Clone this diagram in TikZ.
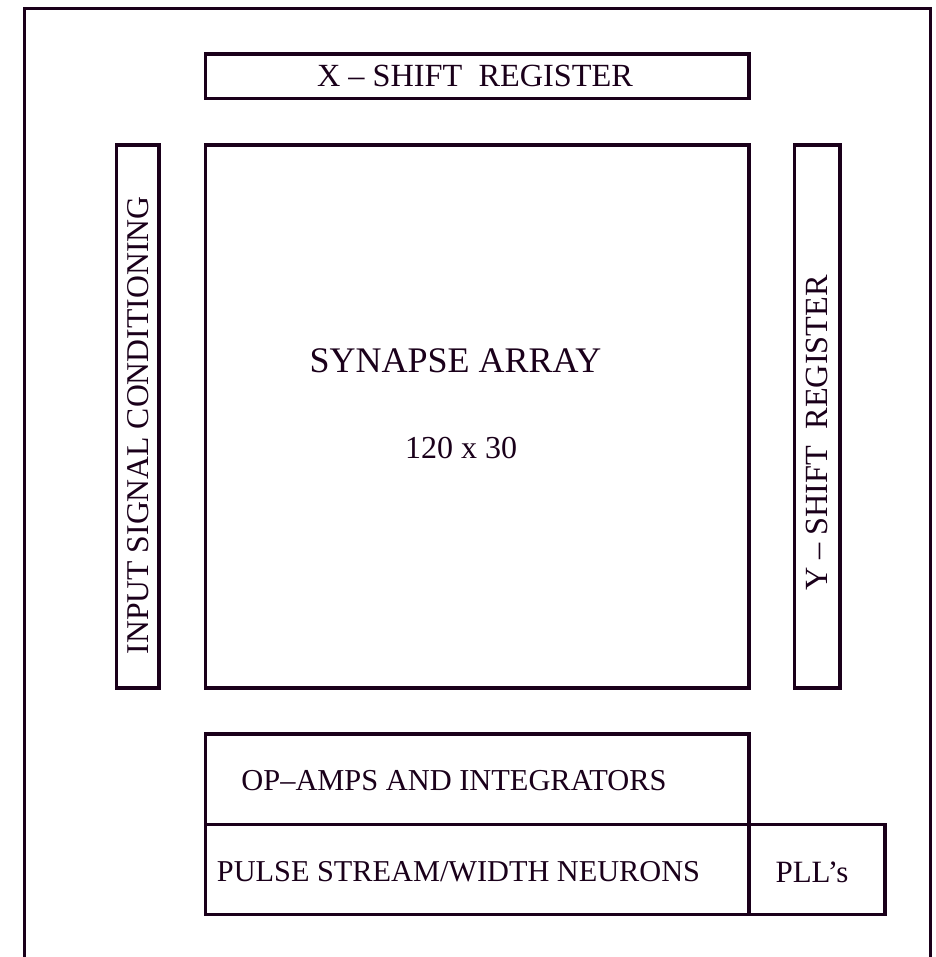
\documentclass[tikz,border=0pt]{standalone}
\usepackage{fontspec}
\setmainfont{Liberation Serif}
\definecolor{ink}{RGB}{26,0,26}
\begin{document}
\begin{tikzpicture}[x=1pt,y=-1pt,
  blk/.style={draw=ink,line width=3.2pt,inner sep=0pt},
  lbl/.style={text=ink,inner sep=0pt,anchor=base},
  vlbl/.style={text=ink,inner sep=0pt,anchor=base,rotate=90}]
\useasboundingbox (0,0) rectangle (935,957);
\begin{scope}
\clip (0,0) rectangle (935,957);
\node[blk,minimum width=905.5pt,minimum height=1000pt] (frame) at (477.55,508.8) {};
\end{scope}
% boxes
\node[blk,minimum width=543.3pt,minimum height=44.3pt] (xsr) at (477.35,76.15) {};
\node[blk,minimum width=543.3pt,minimum height=543pt] (syn) at (477.35,416.5) {};
\node[blk,minimum width=42.5pt,minimum height=543pt] (isc) at (137.75,416.5) {};
\node[blk,minimum width=45.3pt,minimum height=543pt] (ysr) at (817.35,416.5) {};
\node[blk,minimum width=543.3pt,minimum height=90.5pt] (opa) at (477.35,779.25) {};
\node[blk,minimum width=543.3pt,minimum height=90pt] (pul) at (477.35,869.5) {};
\node[blk,minimum width=136pt,minimum height=90pt] (pll) at (817,869.5) {};
% labels
\node[lbl,font=\fontsize{32.3}{36}\selectfont] (txsr) at (475,87) {X \textendash\ SHIFT\ \ REGISTER};
\node[lbl,font=\fontsize{36}{40}\selectfont] (tsyn) at (455.5,372) {SYNAPSE ARRAY};
\node[lbl,font=\fontsize{32}{36}\selectfont] (tdim) at (461,458) {120 x 30};
\node[vlbl,font=\fontsize{31.7}{36}\selectfont] (tisc) at (148,425.5) {INPUT SIGNAL CONDITIONING};
\node[vlbl,font=\fontsize{32.3}{36}\selectfont] (tysr) at (827,433) {Y \textendash\ SHIFT\ \ REGISTER};
\node[lbl,font=\fontsize{30.4}{34}\selectfont] (topa) at (454,790) {OP\textendash AMPS AND INTEGRATORS};
\node[lbl,font=\fontsize{30.3}{34}\selectfont] (tpul) at (458.5,881) {PULSE STREAM/WIDTH NEURONS};
\node[lbl,font=\fontsize{31}{34}\selectfont] (tpll) at (812,882) {PLL’s};
\end{tikzpicture}
\end{document}
